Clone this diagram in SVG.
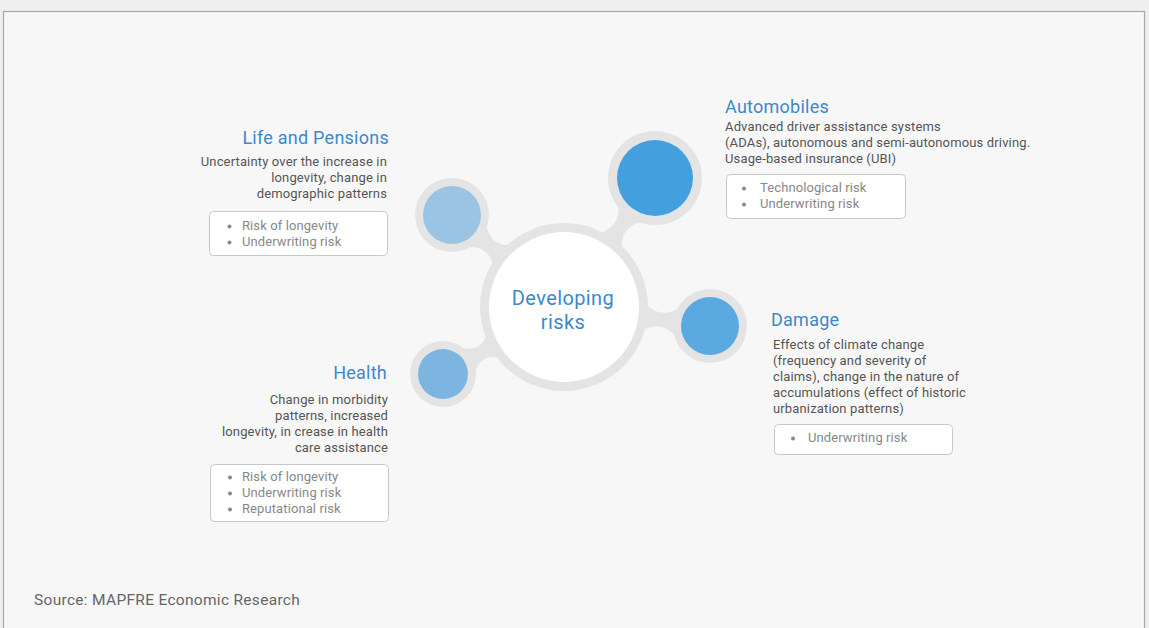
<svg xmlns="http://www.w3.org/2000/svg" width="1149" height="628" viewBox="0 0 1149 628">
<style>
.title{font-family:Roboto,"Liberation Sans",sans-serif;font-size:18px;letter-spacing:0.25px;fill:#3d88cc}
.body{font-family:Roboto,"Liberation Sans",sans-serif;font-size:13px;letter-spacing:0.15px;fill:#555}
.bul{font-family:Roboto,"Liberation Sans",sans-serif;font-size:13px;letter-spacing:0.1px;fill:#888}
.dot{fill:#888}
.box{fill:#fff;stroke:#c8c8c8;stroke-width:1}
.ring{fill:#e4e4e4}
.conn{fill:#e4e4e4}
.r{text-anchor:end}
</style>
<rect x="0" y="0" width="1149" height="628" fill="#efefef"/>
<rect x="3.5" y="11.5" width="1141" height="630" fill="#f7f7f7" stroke="#a8a8a8" stroke-width="1.2"/>
<g id="connectors">
<path class="conn" d="M513.9,245.1 Q488.6,247.6 486.2,222.3 L465.8,247.1 Q491.2,244.6 493.5,269.9 Z"/>
<path class="conn" d="M622.02,252.49 Q618.53,226.24 644.44,220.72 L618.30,202.28 Q621.79,228.54 595.88,234.05 Z"/>
<path class="conn" d="M639.29,332.93 Q660.56,317.55 677.2,337.87 L681.32,306.13 Q660.04,321.51 643.41,301.19 Z"/>
<path class="conn" d="M488.01,330.78 Q482.16,354.6 458.87,346.92 L474.37,374.92 Q480.22,351.1 503.51,358.78 Z"/>
</g>
<g id="center">
<circle class="ring" cx="564" cy="307" r="84"/>
<circle cx="564" cy="307" r="75" fill="#fff"/>
<text x="563" y="305" text-anchor="middle" font-family="Roboto,'Liberation Sans',sans-serif" font-size="20" letter-spacing="0.4" fill="#3d88cc">Developing</text>
<text x="563" y="329" text-anchor="middle" font-family="Roboto,'Liberation Sans',sans-serif" font-size="20" letter-spacing="0.4" fill="#3d88cc">risks</text>
</g>
<g id="life">
<circle class="ring" cx="452" cy="215" r="37"/>
<circle cx="452" cy="215" r="29" fill="#9bc4e4"/>
<text class="title r" x="389" y="144">Life and Pensions</text>
<text class="body r" x="387" y="166">Uncertainty over the increase in</text>
<text class="body r" x="387" y="182">longevity, change in</text>
<text class="body r" x="387" y="198">demographic patterns</text>
<rect class="box" x="209.5" y="211.5" width="178" height="44" rx="4"/>
<circle class="dot" cx="229.5" cy="226.5" r="2"/><text class="bul" x="242" y="230">Risk of longevity</text>
<circle class="dot" cx="229.5" cy="242.5" r="2"/><text class="bul" x="242" y="246">Underwriting risk</text>
</g>
<g id="automobiles">
<circle class="ring" cx="655" cy="178" r="47"/>
<circle cx="655" cy="178" r="38" fill="#449fdf"/>
<text class="title" x="725" y="113">Automobiles</text>
<text class="body" x="725" y="131">Advanced driver assistance systems</text>
<text class="body" x="725" y="147">(ADAs), autonomous and semi-autonomous driving.</text>
<text class="body" x="725" y="163">Usage-based insurance (UBI)</text>
<rect class="box" x="726.5" y="174.5" width="179" height="44" rx="4"/>
<circle class="dot" cx="744" cy="188.5" r="2"/><text class="bul" x="760" y="192">Technological risk</text>
<circle class="dot" cx="744" cy="204.5" r="2"/><text class="bul" x="760" y="208">Underwriting risk</text>
</g>
<g id="damage">
<circle class="ring" cx="710" cy="326" r="37"/>
<circle cx="710" cy="326" r="29" fill="#5ba9e1"/>
<text class="title" x="771" y="326">Damage</text>
<text class="body" x="773" y="349">Effects of climate change</text>
<text class="body" x="773" y="365">(frequency and severity of</text>
<text class="body" x="773" y="381">claims), change in the nature of</text>
<text class="body" x="773" y="397">accumulations (effect of historic</text>
<text class="body" x="773" y="413">urbanization patterns)</text>
<rect class="box" x="774.5" y="424.5" width="178" height="30" rx="4"/>
<circle class="dot" cx="793" cy="438.5" r="2"/><text class="bul" x="808" y="442">Underwriting risk</text>
</g>
<g id="health">
<circle class="ring" cx="443" cy="374" r="33"/>
<circle cx="443" cy="374" r="25" fill="#7cb6e0"/>
<text class="title r" x="387" y="379">Health</text>
<text class="body r" x="388" y="404">Change in morbidity</text>
<text class="body r" x="388" y="420">patterns, increased</text>
<text class="body r" x="388" y="436">longevity, in crease in health</text>
<text class="body r" x="388" y="452">care assistance</text>
<rect class="box" x="210.5" y="464.5" width="178" height="57" rx="4"/>
<circle class="dot" cx="230" cy="477.5" r="2"/><text class="bul" x="242" y="481">Risk of longevity</text>
<circle class="dot" cx="230" cy="493.5" r="2"/><text class="bul" x="242" y="497">Underwriting risk</text>
<circle class="dot" cx="230" cy="509.5" r="2"/><text class="bul" x="242" y="513">Reputational risk</text>
</g>
<text x="34" y="605" font-family="Roboto,'Liberation Sans',sans-serif" font-size="15.5" letter-spacing="0.3" fill="#666">Source: MAPFRE Economic Research</text>
</svg>
